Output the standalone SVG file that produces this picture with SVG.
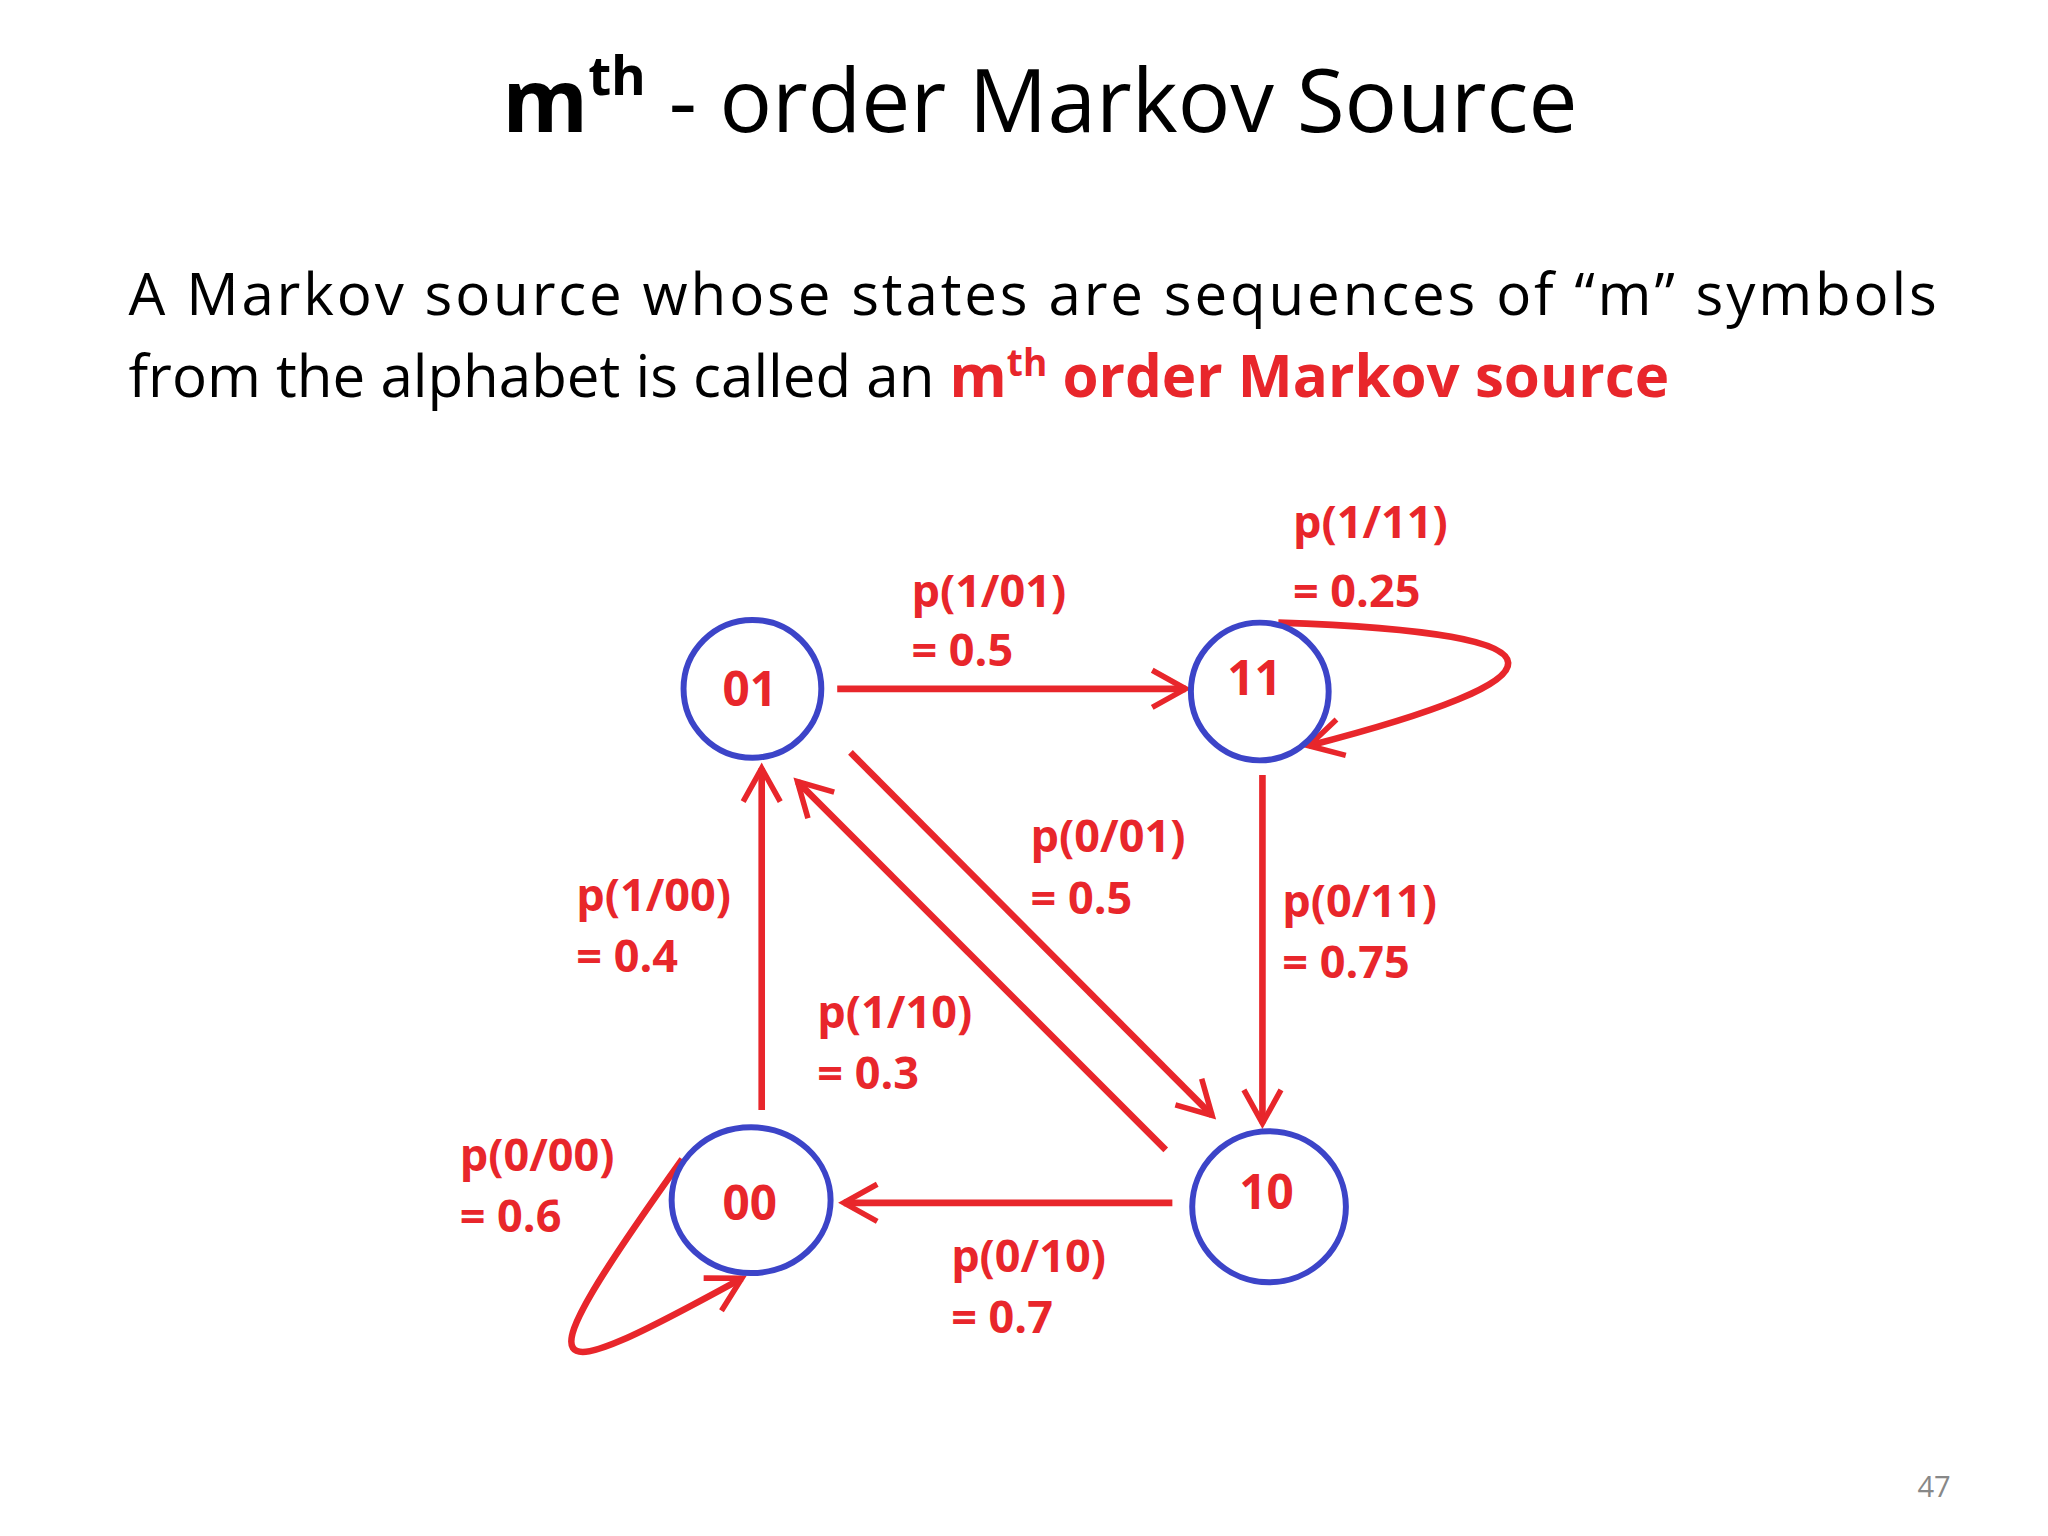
<svg xmlns="http://www.w3.org/2000/svg" width="2048" height="1536" viewBox="0 0 2048 1536">
<defs>
<style>
.t{font-family:"Open Sans","Liberation Sans",sans-serif;fill:#000}
.lb{font-family:"Open Sans","Liberation Sans",sans-serif;font-weight:bold;font-size:34px;fill:#e8262b}
.nd{fill:none;stroke:#3c44c8;stroke-width:4.5}
.nt{font-family:"Open Sans","Liberation Sans",sans-serif;font-weight:bold;font-size:36px;fill:#e8262b;text-anchor:middle}
.e{fill:none;stroke:#e8262b;stroke-width:5;marker-end:url(#a)}
</style>
<marker id="a" viewBox="0 0 20 20" refX="18" refY="10" markerWidth="28" markerHeight="28" orient="auto" markerUnits="userSpaceOnUse" style="overflow:visible">
<polyline points="0,0 18,10 0,20" fill="none" stroke="#e8262b" stroke-width="3"/>
</marker>
</defs>
<rect width="2048" height="1536" fill="#fff"/>
<g transform="scale(1.3247)">
<text class="t" x="785" y="100" font-size="66" text-anchor="middle"><tspan font-weight="bold">m</tspan><tspan font-weight="bold" font-size="40" dy="-28">th</tspan><tspan dy="28"> - order Markov Source</tspan></text>
<text class="t" x="97" y="238" font-size="44" textLength="1365" lengthAdjust="spacing">A Markov source whose states are sequences of “m” symbols</text>
<text class="t" x="97" y="300" font-size="44">from the alphabet is called an <tspan fill="#e8262b" font-weight="bold">m</tspan><tspan fill="#e8262b" font-weight="bold" font-size="28" dy="-16">th</tspan><tspan fill="#e8262b" font-weight="bold" dy="16"> order Markov source</tspan></text>
<text x="1460" y="1130" font-family="Open Sans,Liberation Sans,sans-serif" font-size="22" fill="#888" text-anchor="middle">47</text>
<g id="connectors">
<path class="e" d="M632,520 L895,520"/>
<path class="e" d="M953,585 L953,848"/>
<path class="e" d="M885,908 L637,908"/>
<path class="e" d="M575,838 L575,580"/>
<path class="e" d="M642,568 L915,842"/>
<path class="e" d="M880,868 L602,590"/>
<path class="e" d="M965,470 C1200,478 1185,512 988,563"/>
<path class="e" d="M515,875 C390,1050 405,1050 560,965"/>
</g>
<g id="n01"><circle class="nd" cx="568" cy="520" r="52"/><text class="nt" x="566" y="533">01</text></g>
<g id="n11"><circle class="nd" cx="951" cy="522" r="52"/><text class="nt" x="947" y="525">11</text></g>
<g id="n00"><ellipse class="nd" cx="567" cy="906" rx="60" ry="55"/><text class="nt" x="566" y="921">00</text></g>
<g id="n10"><ellipse class="nd" cx="958" cy="911" rx="58" ry="57"/><text class="nt" x="956" y="913">10</text></g>
<g id="labels">
<text class="lb" x="688" y="458">p(1/01)</text><text class="lb" x="688" y="503">= 0.5</text>
<text class="lb" x="976" y="406">p(1/11)</text><text class="lb" x="976" y="458">= 0.25</text>
<text class="lb" x="778" y="643">p(0/01)</text><text class="lb" x="778" y="690">= 0.5</text>
<text class="lb" x="968" y="692">p(0/11)</text><text class="lb" x="968" y="738">= 0.75</text>
<text class="lb" x="435" y="688">p(1/00)</text><text class="lb" x="435" y="734">= 0.4</text>
<text class="lb" x="617" y="776">p(1/10)</text><text class="lb" x="617" y="822">= 0.3</text>
<text class="lb" x="347" y="884">p(0/00)</text><text class="lb" x="347" y="930">= 0.6</text>
<text class="lb" x="718" y="960">p(0/10)</text><text class="lb" x="718" y="1006">= 0.7</text>
</g>
</g>
</svg>
